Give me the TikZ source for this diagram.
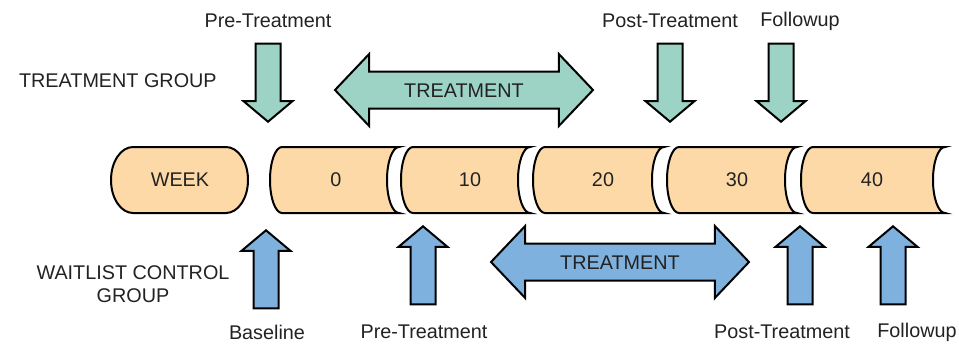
\documentclass[tikz,border=0pt]{standalone}
\usepackage{fontspec}
\setmainfont{Liberation Sans}
\usetikzlibrary{shapes.arrows}
\definecolor{segfill}{RGB}{253,217,168}
\definecolor{topfill}{RGB}{157,211,197}
\definecolor{botfill}{RGB}{126,177,221}
\definecolor{ink}{RGB}{34,34,34}
\begin{document}
\begin{tikzpicture}[x=0.5pt,y=-0.5pt,font=\fontsize{9.9}{11.5}\selectfont,text=ink]
    \tikzset{seg/.style = {draw=black,fill=segfill,line width=1pt},
        pointer/.style = {single arrow,draw=black,line width=1pt,minimum height=39pt,inner xsep=0pt,inner ysep=5.75pt,single arrow head extend=6pt,single arrow tip angle=100,anchor=tip},
        ptop/.style = {pointer,fill=topfill,rotate=-90},
        pbot/.style = {pointer,fill=botfill,rotate=90},
        phase/.style = {double arrow,draw=black,line width=1pt,minimum height=129pt,inner xsep=0pt,inner ysep=5.25pt,text height=7pt,text depth=0pt,double arrow head extend=8.75pt,double arrow tip angle=93}}
    \useasboundingbox (0,0) rectangle (959,344);
    % week pill
    \draw[seg] (133,147) -- (226,147) arc[start angle=90,end angle=-90,x radius=11pt,y radius=16.5pt] -- (133,213) arc[start angle=270,end angle=90,x radius=11pt,y radius=16.5pt] -- cycle;
    \node (week) at (180,180) {WEEK};
    % timeline segments
    \foreach \xl/\xr/\xt/\lab in {282/399/336/0, 413/530/470/10, 545/664/603/20, 679/797/737/30, 813/945/872/40}{
        \draw[seg] (\xl,147) arc[start angle=90,end angle=270,x radius=6pt,y radius=16.5pt] -- (\xr,213) arc[start angle=270,end angle=90,x radius=6pt,y radius=16.5pt] -- cycle;
        \node (wk\lab) at (\xt,180) {\lab};
    }
    % treatment group
    \node[anchor=west] (tgroup) at (12,81) {TREATMENT GROUP};
    \node[ptop] (tpre) at (268,123) {};
    \node[ptop] (tpost) at (670,123) {};
    \node[ptop] (tfol) at (781,123) {};
    \node (tprelab) at (268,21) {Pre-Treatment};
    \node (tpostlab) at (670,21) {Post-Treatment};
    \node (tfollab) at (800,21) {Followup};
    \node[phase,fill=topfill] (ttreat) at (464,90) {TREATMENT};
    % waitlist control group
    \node[align=center] (wgroup) at (133,284) {WAITLIST CONTROL\\GROUP};
    \node[pbot] (wbase) at (266,229) {};
    \node[pbot] (wpre) at (423,225) {};
    \node[pbot] (wpost) at (800,225) {};
    \node[pbot] (wfol) at (893,225) {};
    \node (wbaselab) at (267,332) {Baseline};
    \node (wprelab) at (424,332) {Pre-Treatment};
    \node (wpostlab) at (782,332) {Post-Treatment};
    \node (wfollab) at (917,332) {Followup};
    \node[phase,fill=botfill] (wtreat) at (620,262) {TREATMENT};
\end{tikzpicture}
\end{document}
